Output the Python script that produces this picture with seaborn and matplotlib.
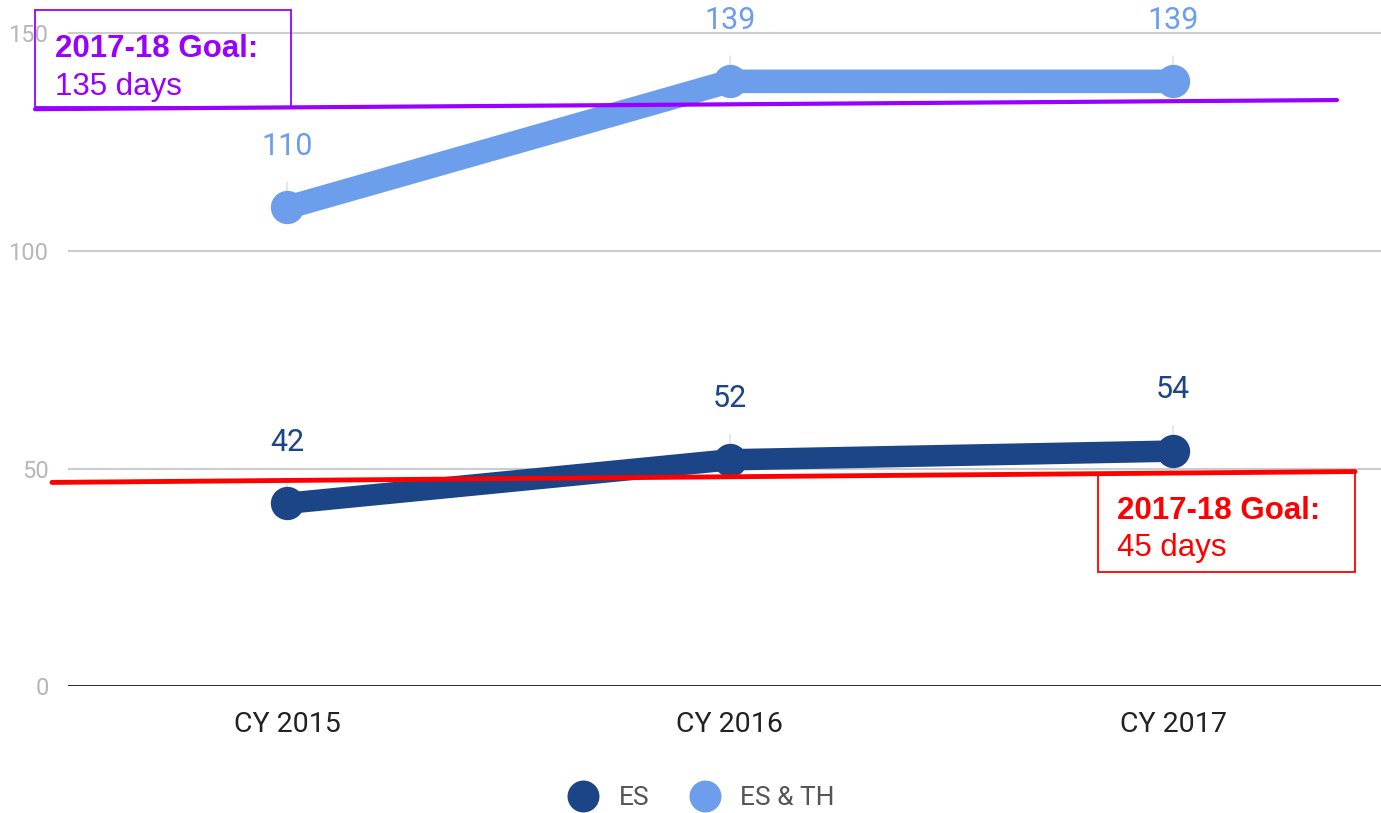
import matplotlib
matplotlib.use("Agg")
import matplotlib.pyplot as plt
import seaborn as sns
import pandas as pd
from matplotlib.patches import Rectangle
from matplotlib.lines import Line2D

# ---- data ----
years = ["CY 2015", "CY 2016", "CY 2017"]
es_values = [42, 52, 54]
es_th_values = [110, 139, 139]
series_names = ["ES", "ES & TH"]
yticks = [0, 50, 100, 150]
goal_es_th_text = ["2017-18 Goal:", "135 days"]
goal_es_text = ["2017-18 Goal:", "45 days"]
# hand-drawn goal lines as they appear (left / right end values)
goal_es_th_line = [132.6, 134.7]
goal_es_line = [46.8, 49.3]

colors = {"ES": "#1c4587", "ES & TH": "#6d9eeb"}
purple = "#9900ff"
red = "#ff0000"

df = pd.DataFrame({
    "year": years * 2,
    "days": es_values + es_th_values,
    "series": ["ES"] * 3 + ["ES & TH"] * 3,
})

sns.set_theme(style="white")
plt.rcParams["font.family"] = ["Roboto", "DejaVu Sans"]

W, H = 1381, 813
fig = plt.figure(figsize=(W / 100, H / 100), dpi=100)
ax = fig.add_axes([68 / W, (H - 686) / H, (W - 68) / W, 686 / H])

ymax = 686 / 4.35
ax.set_ylim(0, ymax)
ax.set_xlim(-(287 - 68) / 443, 2 + (W - 1173) / 443)

for s in series_names:
    sub = df[df["series"] == s]
    lw = 17 if s == "ES & TH" else 15.5
    sns.lineplot(data=sub, x="year", y="days", color=colors[s], ax=ax,
                 linewidth=lw, marker="o", markersize=24,
                 markeredgewidth=0, solid_capstyle="round", sort=False,
                 legend=False, zorder=3)
    for i, v in enumerate(sub["days"]):
        ax.annotate(str(v), xy=(i, v), xytext=(0, 44), textcoords="offset points",
                    ha="center", va="center", fontsize=22, color=colors[s],
                    arrowprops=dict(arrowstyle="-", color="#dddddd", lw=1,
                                    shrinkA=13, shrinkB=0),
                    zorder=2)

# gridlines and axis
for t in yticks[1:]:
    ax.axhline(t, color="#cccccc", lw=1.5, zorder=0)
ax.axhline(0, color="#333333", lw=2.2, zorder=1)
for sp in ax.spines.values():
    sp.set_visible(False)
ax.set_yticks(yticks)
ax.set_yticklabels([str(t) for t in yticks], color="#b7b7b7", fontsize=17)
ax.tick_params(axis="y", length=0, pad=14)
ax.tick_params(axis="x", length=0, pad=18, labelsize=20.5, labelcolor="#222222")
ax.set_xlabel("")
ax.set_ylabel("")
ax.grid(False)

# goal lines (drawn over series)
x0p, x1p = (35 - 287) / 443, (1337 - 287) / 443
ax.plot([x0p, x1p], goal_es_th_line, color=purple, lw=3, clip_on=False, zorder=5)
x0r, x1r = (52 - 287) / 443, (1355 - 287) / 443
ax.plot([x0r, x1r], goal_es_line, color=red, lw=3.5, clip_on=False, zorder=5)

# goal boxes
def ypx(p):
    return (686 - p) / 4.35

bx0 = (35 - 287) / 443
bx1 = (291 - 287) / 443
ax.add_patch(Rectangle((bx0, ypx(107)), bx1 - bx0, ypx(10) - ypx(107),
                       fill=False, edgecolor=purple, lw=1.3, clip_on=False, zorder=5))
ax.text((55 - 287) / 443, ypx(49), goal_es_th_text[0], color=purple, fontsize=22.5,
        fontweight="bold", family=["Liberation Sans"], va="center", ha="left", zorder=6)
ax.text((55 - 287) / 443, ypx(87), goal_es_th_text[1], color=purple, fontsize=22.5,
        family=["Liberation Sans"], va="center", ha="left", zorder=6)

rx0 = (1098 - 287) / 443
rx1 = (1355 - 287) / 443
ax.add_patch(Rectangle((rx0, ypx(572)), rx1 - rx0, ypx(473) - ypx(572),
                       fill=False, edgecolor=red, lw=1.3, clip_on=False, zorder=5))
ax.text((1117 - 287) / 443, ypx(511), goal_es_text[0], color=red, fontsize=22.5,
        fontweight="bold", family=["Liberation Sans"], va="center", ha="left", zorder=6)
ax.text((1117 - 287) / 443, ypx(548), goal_es_text[1], color=red, fontsize=22.5,
        family=["Liberation Sans"], va="center", ha="left", zorder=6)

# legend
handles = [Line2D([], [], linestyle="none", marker="o", markersize=23,
                  markeredgewidth=0, color=colors[s]) for s in series_names]
fig.legend(handles, series_names, loc="center", bbox_to_anchor=(701 / W, 1 - 798 / H),
           ncol=2, frameon=False, fontsize=19, labelcolor="#555555",
           handletextpad=0.75, columnspacing=1.5, handlelength=1.2)

fig.savefig("out.png", dpi=100)
